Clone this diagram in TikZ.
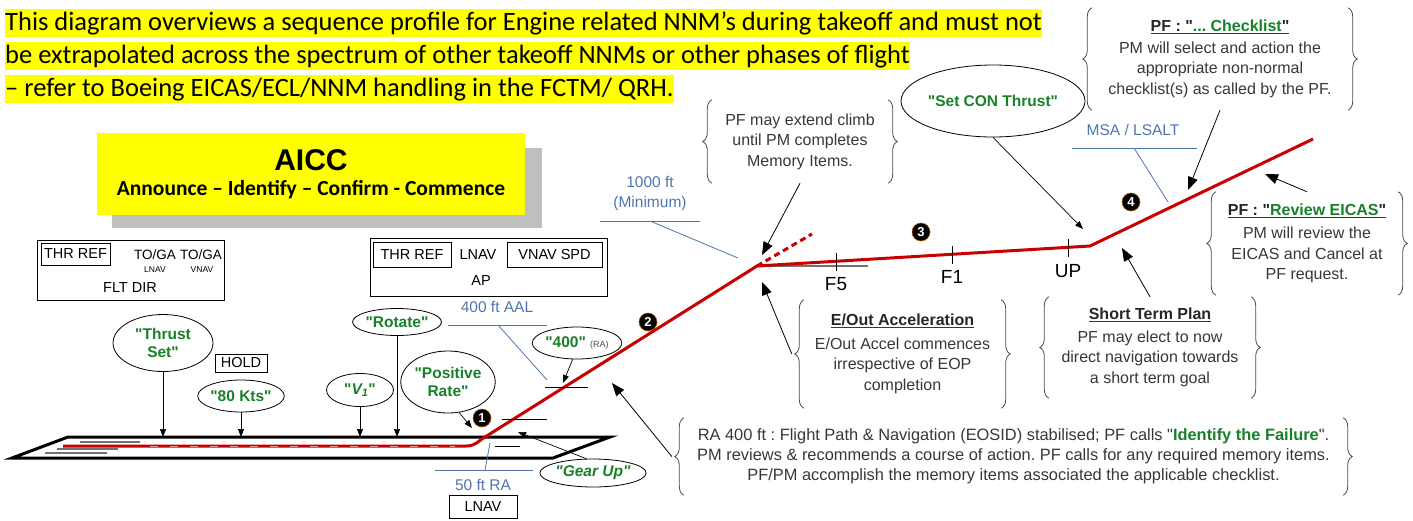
\documentclass[tikz,border=0pt]{standalone}
\usepackage{fontspec}
\setmainfont{Liberation Sans}[Ligatures=TeXOff]
\newfontfamily\calibri{Carlito}[Ligatures=TeXOff]
\usetikzlibrary{shapes.geometric,arrows.meta,decorations.pathreplacing}
\frenchspacing

\definecolor{callgreen}{RGB}{24,128,40}
\definecolor{pathred}{RGB}{200,0,0}
\definecolor{altblue}{RGB}{79,117,175}
\definecolor{infogray}{RGB}{55,55,55}
\definecolor{hiyellow}{RGB}{255,255,0}

\tikzset{
  call/.style={ellipse, draw, line width=0.8pt, inner sep=0pt, align=center,
    text=callgreen, font=\fontsize{15.5}{18}\selectfont\bfseries},
  fma/.style={draw, line width=0.8pt, inner sep=0pt},
  fmabox/.style={draw, line width=0.8pt, inner sep=0pt, font=\fontsize{14.5}{16}\selectfont},
  fmatxt/.style={inner sep=0pt, font=\fontsize{14.5}{16}\selectfont},
  fmasmall/.style={inner sep=0pt, font=\fontsize{8.5}{9}\selectfont},
  info/.style={align=center, inner sep=0pt, text=infogray, font=\fontsize{16}{20.5}\selectfont},
  brc/.style={draw=black!70, line width=0.8pt, decorate, decoration={brace, amplitude=9pt}},
  ptr/.style={-{Triangle[length=8pt,width=6pt]}, line width=0.7pt},
  bigptr/.style={-{Triangle[length=13pt,width=10pt]}, line width=0.8pt},
  alt/.style={altblue, line width=0.8pt},
  altlbl/.style={text=altblue, align=center, inner sep=0pt, font=\fontsize{15.5}{20}\selectfont},
  num/.style={circle, fill=black, draw=orange!70!black, line width=0.6pt, text=white,
    inner sep=0pt, minimum size=18pt, font=\fontsize{13}{13}\selectfont\bfseries},
  flap/.style={inner sep=0pt, font=\fontsize{19}{19}\selectfont},
  hilite/.style={fill=hiyellow, anchor=north west, inner xsep=0pt, inner ysep=0pt,
    text height=21pt, text depth=7pt, font=\calibri\fontsize{26.5}{30}\selectfont},
}

\begin{document}
\begin{tikzpicture}[x=1pt,y=-1pt]
\useasboundingbox (0,0) rectangle (1413,520);

% Highlighted note
\node[hilite] (intro1) at (5,9) {This diagram overviews a sequence profile for Engine related NNM’s during takeoff and must not};
\node[hilite] (intro2) at (5,42) {be extrapolated across the spectrum of other takeoff NNMs or other phases of flight};
\node[hilite] (intro3) at (5,75) {– refer to Boeing EICAS/ECL/NNM handling in the FCTM/ QRH.};

% AICC banner with its shadow
\fill[black!25] (112,148) rectangle (542,228);
\node[fill=hiyellow, minimum width=428pt, minimum height=82pt, align=center, inner sep=0pt] (aicc) at (311,174)
  {\fontsize{30}{34}\selectfont\bfseries AICC\\[9pt]
   {\calibri\fontsize{21.5}{24}\selectfont\bfseries Announce – Identify – Confirm - Commence}};

% Mode annunciations
\node[fma, minimum width=187pt, minimum height=60pt] (fltdir) at (130.5,270) {};
\node[fmabox, minimum width=69pt, minimum height=22pt] (thrrefA) at (75.5,254) {THR REF};
\node[fmatxt, font=\fontsize{13.5}{15}\selectfont] (togaL) at (155,255) {TO/GA};
\node[fmatxt, font=\fontsize{13.5}{15}\selectfont] (togaV) at (201,255) {TO/GA};
\node[fmasmall] (lnavA) at (155,270) {LNAV};
\node[fmasmall] (vnavA) at (202,270) {VNAV};
\node[fmatxt] (fdlbl) at (130,288) {FLT DIR};

\node[fma, minimum width=237pt, minimum height=58pt] (apmodes) at (488.5,267) {};
\node[fmabox, minimum width=78pt, minimum height=25pt] (thrrefB) at (412,254.5) {THR REF};
\node[fmatxt] (lnavB) at (478,255) {LNAV};
\node[fmabox, minimum width=95pt, minimum height=25pt] (vnavspd) at (554.5,254.5) {VNAV SPD};
\node[fmatxt] (aplbl) at (481,281) {AP};

\node[fmabox, minimum width=52pt, minimum height=18pt] (hold) at (241,363) {HOLD};
\node[fmabox, minimum width=68pt, minimum height=23pt] (lnavC) at (483,507) {LNAV};

% Runway
\draw[line width=3pt, fill=white] (12,458) -- (68,437) -- (610,437) -- (553,458) -- cycle;
\draw[black!55, line width=1.5pt] (80,442) -- (140,442);
\draw[black!55, line width=1.5pt] (57,449) -- (118,449);
\draw[black!55, line width=1.5pt] (45,453) -- (107,453);
\draw[line width=1pt] (495,446) -- (520,446);

% Flight path
\coordinate (brake) at (63,446);
\coordinate (tofp) at (485,437);
\coordinate (acc) at (757,266);
\coordinate (accx) at (812,234);
\coordinate (upc) at (1090,246);
\coordinate (endp) at (1313,139);
\draw[black!55, line width=1.2pt] (acc) -- (868,266);
\draw[pathred, line width=3pt, line join=round] (brake) -- (466,446) .. controls (476,446) and (478,441) .. (tofp) -- (acc) -- (upc) -- (endp);
\draw[white, opacity=0.6, line width=0.8pt, dash pattern=on 8pt off 12pt] (150,446) -- (455,446);
\draw[pathred, line width=3pt, dash pattern=on 6pt off 4pt] (acc) -- (accx);

% Height markers on the climb
\draw[line width=1pt] (545,387) -- (588,387);
\draw[line width=1pt] (502,419) -- (547,419);

% Flap retraction marks
\draw[line width=0.8pt] (836,253) -- (836,271);
\draw[line width=0.8pt] (952,246) -- (952,264);
\draw[line width=0.8pt] (1068,239) -- (1068,257);
\node[flap] (f5) at (836,284) {F5};
\node[flap] (f1) at (952,277) {F1};
\node[flap] (up) at (1068,271) {UP};

% Segment numbers
\node[num] (n1) at (482,418) {1};
\node[num] (n2) at (648,322) {2};
\node[num] (n3) at (921,232) {3};
\node[num] (n4) at (1131,202) {4};

% Altitude references
\node[altlbl] (minlbl) at (650,193) {1000 ft\\(Minimum)};
\coordinate (minbar) at (650,221);
\coordinate (minpt) at (738,258);
\draw[alt] (600,221) -- (700,221);
\draw[alt] (minbar) -- (minpt);

\node[altlbl] (aallbl) at (497,307) {400 ft AAL};
\coordinate (aalbar) at (498,325);
\coordinate (aalpt) at (547,380);
\draw[alt] (448,325) -- (547,325);
\draw[alt] (aalbar) -- (aalpt);

\node[altlbl] (ralbl) at (483,485) {50 ft RA};
\coordinate (rabar) at (485,470);
\coordinate (rapt) at (490,443);
\draw[alt] (435,470) -- (533,470);
\draw[alt] (rabar) -- (rapt);

\node[altlbl] (msalbl) at (1133,130) {MSA / LSALT};
\coordinate (msabar) at (1134,148);
\coordinate (msapt) at (1168,202);
\draw[alt] (1072,148) -- (1197,148);
\draw[alt] (msabar) -- (msapt);

% Callouts
\node[call, minimum width=100pt, minimum height=57pt] (thrust) at (163,343) {"Thrust\\Set"};
\node[call, minimum width=82pt, minimum height=32pt] (kts80) at (241,396) {"80 Kts"};
\node[call, minimum width=67pt, minimum height=33pt] (vone) at (360,390) {"\textit{V\textsubscript{1}}"};
\node[call, minimum width=83pt, minimum height=27pt] (rotate) at (397,322) {"Rotate"};
\node[call, minimum width=91pt, minimum height=62pt] (posrate) at (448,382) {"Positive\\Rate"};
\node[call, minimum width=82pt, minimum height=32pt] (ra400) at (577,343)
  {"400" {\mdseries\color{black!70}\fontsize{9}{9}\selectfont(RA)}};
\node[call, minimum width=88pt, minimum height=28pt] (gearup) at (593,473) {\textit{"Gear Up"}};
\node[call, minimum width=170pt, minimum height=72pt] (setcon) at (993,101) {"Set CON Thrust"};

\draw[ptr] (thrust.south) -- (thrust.south |- tofp);
\draw[ptr] (kts80.south) -- (kts80.south |- tofp);
\draw[ptr] (vone.south) -- (vone.south |- tofp);
\draw[ptr] (rotate.south) -- (rotate.south |- tofp);
\coordinate (posT) at (472,428);
\draw[ptr] (posrate.-70) -- (posT);
\coordinate (ra400T) at (563,383);
\draw[ptr] (ra400.-105) -- (ra400T);
\coordinate (gearT) at (518,432);
\draw[ptr] (gearup.115) -- (gearT);
\coordinate (setT) at (1083,229);
\draw[ptr] (setcon.south) -- (setT);

% Bracketed notes
\node[info, minimum width=176pt, minimum height=83pt] (ext) at (800,141.5)
  {PF may extend climb\\until PM completes\\Memory Items.};
\node[info, minimum width=256pt, minimum height=102pt] (chk) at (1220,59)
  {\underline{\textbf{\color{black!85}PF : "\textcolor{callgreen}{... Checklist}"}}\\[1pt]
   PM will select and action the\\appropriate non-normal\\checklist(s) as called by the PF.};
\node[info, minimum width=182pt, minimum height=103pt] (rev) at (1307,243.5)
  {\underline{\textbf{\color{black!85}PF : "\textcolor{callgreen}{Review EICAS}"}}\\[3pt]
   PM will review the\\EICAS and Cancel at\\PF request.};
\node[info, minimum width=197pt, minimum height=108pt] (eout) at (902.5,354)
  {\underline{\textbf{\color{black!85}E/Out Acceleration}}\\[3pt]
   E/Out Accel commences\\irrespective of EOP\\completion};
\node[info, minimum width=202pt, minimum height=101pt] (stp) at (1150,347.5)
  {\underline{\textbf{\color{black!85}Short Term Plan}}\\[2pt]
   PF may elect to now\\direct navigation towards\\a short term goal};
\node[info, minimum width=659pt, minimum height=77pt, font=\fontsize{16.4}{20}\selectfont] (ra) at (1013.5,456.5)
  {RA 400 ft : Flight Path \& Navigation (EOSID) stabilised; PF calls "\textbf{\textcolor{callgreen}{Identify the Failure}}".\\
   PM reviews \& recommends a course of action. PF calls for any required memory items.\\
   PF/PM accomplish the memory items associated the applicable checklist.};
\foreach \n in {ext,chk,rev,eout,stp,ra} {
  \draw[brc] (\n.south west) -- (\n.north west);
  \draw[brc] (\n.north east) -- (\n.south east);
}

\coordinate (extT) at (762,255);
\coordinate (chkT) at (1188,190);
\coordinate (revT) at (1265,174);
\coordinate (eoutT) at (762,282);
\coordinate (stpT) at (1122,248);
\coordinate (raT) at (612,383);
\draw[bigptr] (ext.south) -- (extT);
\draw[bigptr] (chk.south) -- (chkT);
\draw[bigptr] (rev.north) -- (revT);
\draw[bigptr] ([xshift=-12pt]eout.west) -- (eoutT);
\draw[bigptr] (stp.north) -- (stpT);
\draw[bigptr] ([xshift=-12pt]ra.west) -- (raT);
\end{tikzpicture}
\end{document}
